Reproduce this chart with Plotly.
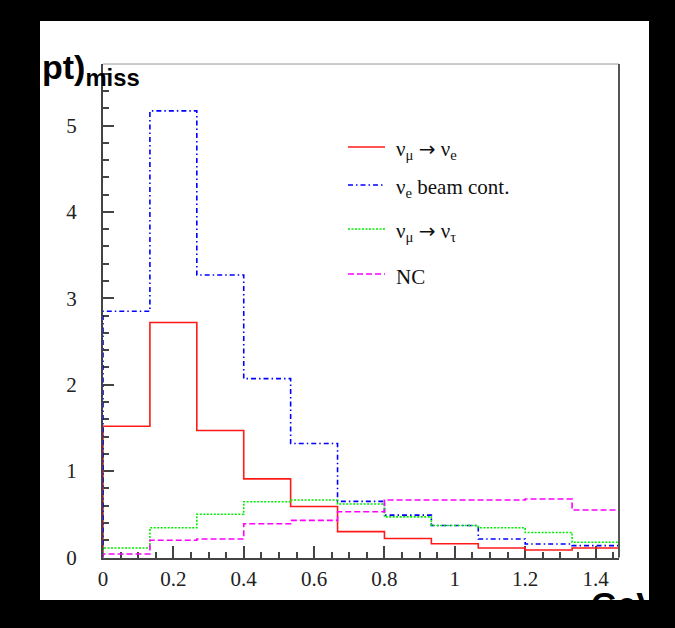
import numpy as np
import plotly.graph_objects as go

# Bin edges of the missing-pt histogram (GeV): 11 bins of width 2/15
n_bins = 11
bin_width = 2.0 / 15.0
edges = np.arange(n_bins + 1) * bin_width

# Expected events per bin for each sample
numu_to_nue = [1.52, 2.72, 1.47, 0.91, 0.59, 0.30, 0.22, 0.16, 0.11, 0.087, 0.11]
nue_beam = [2.85, 5.17, 3.27, 2.07, 1.32, 0.65, 0.49, 0.37, 0.214, 0.156, 0.137]
numu_to_nutau = [0.11, 0.345, 0.50, 0.646, 0.665, 0.62, 0.47, 0.37, 0.345, 0.29, 0.176]
nc = [0.04, 0.20, 0.214, 0.39, 0.43, 0.53, 0.665, 0.665, 0.665, 0.677, 0.55]

x_ticks = [0, 0.2, 0.4, 0.6, 0.8, 1, 1.2, 1.4]
x_tick_text = ["0", "0.2", "0.4", "0.6", "0.8", "1", "1.2", "1.4"]
y_ticks = [0, 1, 2, 3, 4, 5]

ARROW = "<span style='font-family:DejaVu Sans;font-size:20px'>→</span>"
series = [
    ("ν<sub>μ</sub> " + ARROW + " ν<sub>e</sub>", numu_to_nue, "#ff1a1a", "solid"),
    ("ν<sub>e</sub> beam cont.", nue_beam, "#0000ff", "5px,3px,1.5px,3px"),
    ("ν<sub>μ</sub> " + ARROW + " ν<sub>τ</sub>", numu_to_nutau, "#00ee00", "2px,1.5px"),
    ("NC", nc, "#ff00ff", "6px,3px"),
]

SERIF = "Liberation Serif"
SANS = "Liberation Sans"

fig = go.Figure()


def step_outline(values):
    """Histogram outline: rise from 0 at the first edge, fall to 0 at the last."""
    xs = [edges[0]] + list(edges)
    ys = [0.0] + list(values) + [0.0]
    return xs, ys


for name, vals, color, dash in series:
    xs, ys = step_outline(vals)
    fig.add_trace(go.Scatter(
        x=xs, y=ys, mode="lines", name=name,
        line=dict(color=color, width=1.6, dash=dash, shape="hv"),
        showlegend=False, hoverinfo="skip",
    ))

# Full-page overlay axes in pixel units, used for the clipped axis captions
fig.add_trace(go.Scatter(
    x=[42, 591], y=[70, 607],
    mode="text",
    text=["<b>pt)<sub>miss</sub></b>", "<b>GeV</b>"],
    textposition="middle right",
    textfont=dict(family=SANS, size=34, color="black"),
    cliponaxis=True,
    xaxis="x2", yaxis="y2",
    showlegend=False, hoverinfo="skip",
))

axis_col = "#444444"

shapes = [
    # white page area inside the black border
    dict(type="rect", xref="paper", yref="paper", x0=0, x1=1, y0=0, y1=1,
         fillcolor="white", line=dict(width=0), layer="below"),
    # top and right frame lines
    dict(type="line", xref="x domain", yref="y domain", x0=0, x1=1, y0=1, y1=1,
         line=dict(color="#999999", width=1)),
    dict(type="line", xref="x domain", yref="y domain", x0=1, x1=1, y0=0, y1=1,
         line=dict(color="#555555", width=2)),
]

annotations = []
legend_rows = [147, 185, 229, 274]
for (name, vals, color, dash), ly in zip(series, legend_rows):
    shapes.append(dict(type="line", xref="x2", yref="y2", x0=348, x1=385, y0=ly, y1=ly,
                       line=dict(color=color, width=1.6, dash=dash)))
    annotations.append(dict(
        xref="x2", yref="y2", x=394, y=ly + 3, text=name, showarrow=False,
        xanchor="left", yanchor="middle",
        font=dict(family=SERIF, size=21, color="#111111"),
    ))

fig.update_layout(
    width=675, height=628,
    margin=dict(l=40, r=26, t=21, b=28),
    paper_bgcolor="black",
    plot_bgcolor="rgba(0,0,0,0)",
    shapes=shapes,
    annotations=annotations,
    xaxis=dict(
        domain=[0.10345, 0.95074], range=[0, edges[-1]],
        tickmode="array", tickvals=x_ticks, ticktext=x_tick_text,
        ticks="inside", ticklen=12, tickwidth=2, tickcolor=axis_col,
        minor=dict(ticks="inside", ticklen=6, tickwidth=1.5, dtick=0.05,
                   tickcolor=axis_col, showgrid=False),
        showline=True, linecolor=axis_col, linewidth=2,
        showgrid=False, zeroline=False, layer="below traces",
        tickfont=dict(family=SERIF, size=21, color="#222222"),
        ticklabelstandoff=1, fixedrange=True,
    ),
    yaxis=dict(
        domain=[0.0734, 0.9257], range=[0, 5.712],
        tickmode="array", tickvals=y_ticks,
        ticks="inside", ticklen=11, tickwidth=2, tickcolor=axis_col,
        minor=dict(ticks="inside", ticklen=6, tickwidth=1.5, dtick=0.2,
                   tickcolor=axis_col, showgrid=False),
        showline=True, linecolor=axis_col, linewidth=2,
        showgrid=False, zeroline=False, layer="below traces",
        tickfont=dict(family=SERIF, size=21, color="#222222"),
        ticklabelstandoff=20, fixedrange=True,
    ),
    xaxis2=dict(domain=[0, 1], range=[40, 649], visible=False,
                anchor="y2", fixedrange=True),
    yaxis2=dict(domain=[0, 1], range=[600, 21], visible=False,
                anchor="x2", fixedrange=True),
)

fig.write_html("out.html")
